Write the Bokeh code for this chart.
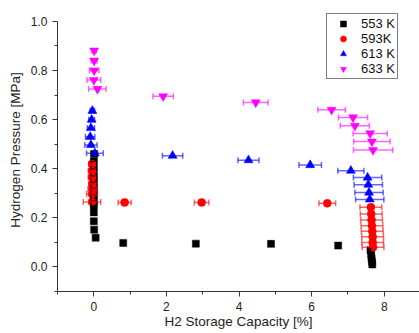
from bokeh.plotting import figure
from bokeh.models import (Whisker, TeeHead, ColumnDataSource, FixedTicker, Range1d,
                          Legend, LegendItem, NumeralTickFormatter)
from bokeh.embed import file_html
from bokeh.resources import INLINE

# ---------------- data ----------------
labels = ["553 K", "593K", "613 K", "633 K"]

x553 = [0.01, 0.0, 0.0, 0.0, 0.0, 0.0, 0.0, 0.0, 0.0, 0.0, 0.0, 0.01, 0.05,
        0.81, 2.81, 4.88, 6.73, 7.62, 7.64, 7.65, 7.66, 7.67]
y553 = [0.46, 0.43, 0.40, 0.37, 0.345, 0.32, 0.295, 0.27, 0.25, 0.222, 0.186, 0.152, 0.119,
        0.098, 0.095, 0.094, 0.087, 0.068, 0.05, 0.035, 0.022, 0.01]
e553 = [0.08, 0.08, 0.08, 0.08, 0.08, 0.08, 0.08, 0.08, 0.08, 0.0, 0.0, 0.0, 0.0,
        0.0, 0.0, 0.0, 0.0, 0.0, 0.0, 0.0, 0.0, 0.0]

x593 = [-0.05, -0.05, -0.05, -0.04, -0.04, -0.05, -0.05,
        0.85, 2.97, 6.43, 7.63, 7.64, 7.65, 7.66, 7.67, 7.68, 7.68, 7.69]
y593 = [0.419, 0.392, 0.365, 0.338, 0.318, 0.297, 0.265,
        0.263, 0.263, 0.259, 0.243, 0.216, 0.191, 0.168, 0.145, 0.123, 0.100, 0.080]
e593 = [0.08, 0.1, 0.1, 0.1, 0.12, 0.15, 0.24,
        0.18, 0.2, 0.23, 0.3, 0.3, 0.3, 0.3, 0.3, 0.3, 0.3, 0.3]

x613 = [-0.04, -0.06, -0.08, -0.10, -0.08, 0.03, 2.17, 4.26, 5.96, 7.08, 7.54, 7.56, 7.58, 7.60]
y613 = [0.636, 0.600, 0.566, 0.530, 0.497, 0.463, 0.453, 0.435, 0.415, 0.392, 0.364, 0.335, 0.303, 0.275]
e613 = [0.06, 0.08, 0.1, 0.13, 0.17, 0.23, 0.28, 0.29, 0.31, 0.36, 0.39, 0.39, 0.39, 0.39]

x633 = [0.01, 0.01, 0.01, 0.0, 0.1, 1.91, 4.46, 6.55, 7.14, 7.19, 7.61, 7.66, 7.69]
y633 = [0.881, 0.840, 0.800, 0.761, 0.725, 0.695, 0.670, 0.640, 0.609, 0.575, 0.544, 0.511, 0.476]
e633 = [0.06, 0.08, 0.13, 0.19, 0.24, 0.28, 0.34, 0.38, 0.4, 0.4, 0.47, 0.5, 0.54]

x_ticks = [0, 2, 4, 6, 8]
x_minor = [-1, 1, 3, 5, 7]
y_ticks = [0.0, 0.2, 0.4, 0.6, 0.8, 1.0]
y_minor = [-0.1, 0.1, 0.3, 0.5, 0.7, 0.9]

# ---------------- figure ----------------
FONT = "Liberation Sans"
p = figure(width=419, height=333, output_backend="svg", toolbar_location=None,
           x_range=Range1d(-1, 8.97), y_range=Range1d(-0.1, 1.0527),
           min_border_left=57, min_border_right=0, min_border_top=8, min_border_bottom=42)
p.outline_line_color = None
p.grid.visible = False
p.background_fill_color = "white"

for ax in (p.xaxis[0], p.yaxis[0]):
    ax.axis_line_color = "#333333"
    ax.major_tick_line_color = "#333333"
    ax.minor_tick_line_color = "#333333"
    ax.major_tick_in = 0
    ax.major_tick_out = 5
    ax.minor_tick_in = 0
    ax.minor_tick_out = 3
    ax.major_label_text_font = FONT
    ax.major_label_text_font_size = "12px"
    ax.major_label_text_color = "#222222"
    ax.axis_label_text_font = FONT
    ax.axis_label_text_font_size = "13.5px"
    ax.axis_label_text_font_style = "normal"
    ax.axis_label_text_color = "#222222"

p.xaxis.ticker = FixedTicker(ticks=x_ticks, minor_ticks=x_minor)
p.yaxis.ticker = FixedTicker(ticks=y_ticks, minor_ticks=y_minor)
p.yaxis.bounds = (-0.1, 1.0)
p.yaxis.formatter = NumeralTickFormatter(format="0.0")
p.xaxis.axis_label = "H2 Storage Capacity [%]"
p.yaxis.axis_label = "Hydrogen Pressure [MPa]"
p.xaxis.major_label_standoff = 5
p.xaxis.axis_label_standoff = 0
p.yaxis.major_label_standoff = 5
p.yaxis.axis_label_standoff = 5

series = [
    (x553, y553, e553, "#000000", "square", 7),
    (x593, y593, e593, "#ff0000", "circle", 8),
    (x613, y613, e613, "#0000ff", "triangle", 9),
    (x633, y633, e633, "#ff00ff", "inverted_triangle", 9),
]

items = []
for (xs, ys, es, col, mk, sz), lab in zip(series, labels):
    src = ColumnDataSource(dict(x=xs, y=ys, lo=[a - b for a, b in zip(xs, es)],
                                hi=[a + b for a, b in zip(xs, es)]))
    w = Whisker(source=src, base="y", lower="lo", upper="hi", dimension="width",
                line_color=col, line_alpha=0.6, line_width=1.5, level="glyph",
                lower_head=TeeHead(size=6, line_color=col, line_alpha=0.6, line_width=1.5),
                upper_head=TeeHead(size=6, line_color=col, line_alpha=0.6, line_width=1.5))
    p.add_layout(w)
    r = p.scatter("x", "y", source=src, marker=mk, size=sz, fill_color=col,
                  line_color=col, line_width=0.5)
    items.append(LegendItem(label=lab, renderers=[r]))

legend = Legend(items=items, location=(269, 212), border_line_color="black",
                border_line_width=1, background_fill_color="white",
                background_fill_alpha=1.0, padding=2, spacing=0, margin=0,
                glyph_width=28, glyph_height=15, label_height=15, label_standoff=4,
                label_text_font=FONT, label_text_font_size="13px",
                label_text_color="#111111")
p.add_layout(legend)

open("out.html", "w").write(file_html(p, INLINE))
